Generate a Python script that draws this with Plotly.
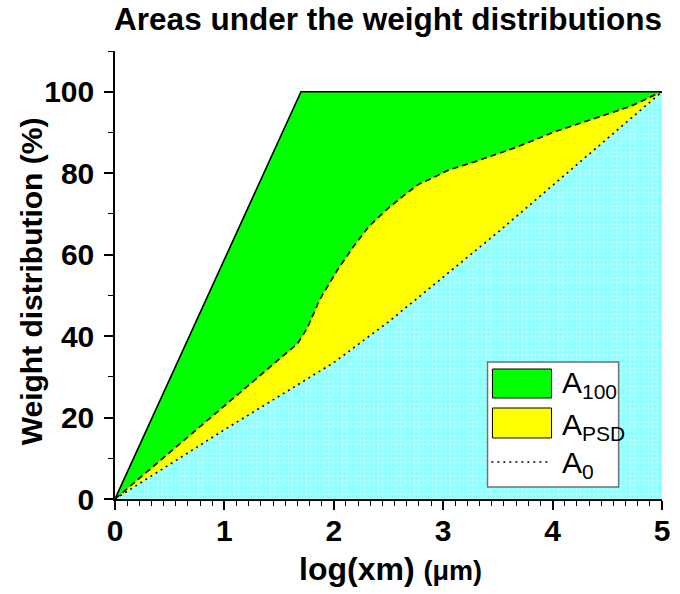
import plotly.graph_objects as go

# ---- data ----
a0_x = [0, 1.0, 2.0, 2.5, 3.0, 3.5, 4.0, 4.5, 5]
a0_y = [0, 17.0, 33.5, 43.5, 54.5, 65.5, 77.0, 88.5, 100]

psd_x = [0, 1.67, 1.76, 1.87, 2.03, 2.18, 2.32, 2.48, 2.63, 2.77, 2.93, 3.05, 3.29, 3.65, 4.01, 4.40, 4.70, 5]
psd_y = [0, 38.2, 42.1, 48.9, 56.1, 62.0, 66.9, 71.0, 74.3, 77.2, 79.2, 80.8, 82.8, 86.2, 90.1, 93.6, 96.3, 100]

a100_x = [0, 1.7, 5]
a100_y = [0, 100, 100]

FONT = "Liberation Sans, Arial, sans-serif"

fig = go.Figure()

# fills
fig.add_trace(go.Scatter(x=a0_x, y=a0_y, mode="lines", line=dict(width=0),
                         fill="tozeroy",
                         fillpattern=dict(shape="+", bgcolor="#8cffff", fgcolor="#ffffff",
                                          size=4.5, solidity=0.25),
                         showlegend=False, hoverinfo="skip"))
fig.add_trace(go.Scatter(x=psd_x, y=psd_y, mode="lines", line=dict(width=0),
                         fill="tonexty", fillcolor="#ffff00",
                         showlegend=False, hoverinfo="skip"))
fig.add_trace(go.Scatter(x=a100_x, y=a100_y, mode="lines", line=dict(width=0),
                         fill="tonexty", fillcolor="#00ff00",
                         showlegend=False, hoverinfo="skip"))
# lines
fig.add_trace(go.Scatter(x=a100_x, y=a100_y, mode="lines", name="A100",
                         line=dict(color="black", width=1.6), showlegend=False))
fig.add_trace(go.Scatter(x=psd_x, y=psd_y, mode="lines", name="APSD",
                         line=dict(color="black", width=1.6, dash="6px,4px"), showlegend=False))
fig.add_trace(go.Scatter(x=a0_x, y=a0_y, mode="lines", name="A0",
                         line=dict(color="black", width=1.6, dash="2px,4px"), showlegend=False))

# ---- custom legend ----
lx0, lx1, ly0, ly1 = 0.681, 0.9207, 0.0268, 0.3058
shapes = [
    dict(type="rect", xref="paper", yref="paper", x0=lx0, x1=lx1, y0=ly0, y1=ly1,
         fillcolor="white", line=dict(color="#707070", width=1.5), layer="above"),
    dict(type="rect", xref="paper", yref="paper", x0=0.690, x1=0.798, y0=0.2254, y1=0.2902,
         fillcolor="#00ff00", line=dict(color="black", width=1), layer="above"),
    dict(type="rect", xref="paper", yref="paper", x0=0.690, x1=0.798, y0=0.1362, y1=0.2031,
         fillcolor="#ffff00", line=dict(color="black", width=1), layer="above"),
    dict(type="line", xref="paper", yref="paper", x0=0.688, x1=0.793, y0=0.0826, y1=0.0826,
         line=dict(color="black", width=1.6, dash="2px,4px"), layer="above"),
]
leg_font = dict(family=FONT, size=30, color="black")
annotations = [
    dict(xref="paper", yref="paper", x=0.8144, y=0.2545, xanchor="left", yanchor="middle",
         text="A<sub>100</sub>", showarrow=False, font=leg_font),
    dict(xref="paper", yref="paper", x=0.8144, y=0.1618, xanchor="left", yanchor="middle",
         text="A<sub>PSD</sub>", showarrow=False, font=leg_font),
    dict(xref="paper", yref="paper", x=0.8144, y=0.077, xanchor="left", yanchor="middle",
         text="A<sub>0</sub>", showarrow=False, font=leg_font),
    # axis titles
    dict(xref="paper", yref="paper", x=-0.153, y=0.4866, textangle=-90,
         xanchor="center", yanchor="middle", showarrow=False,
         text="<b>Weight distribution (%)</b>",
         font=dict(family=FONT, size=30, color="black")),
    dict(xref="paper", yref="paper", x=0.5036, y=-0.157,
         xanchor="center", yanchor="middle", showarrow=False,
         text="<b>log(xm) <span style='font-size:27px'>(μm)</span></b>",
         font=dict(family=FONT, size=32, color="black")),
]

fig.update_layout(
    width=680, height=594,
    margin=dict(l=115, r=10, t=51, b=95),
    paper_bgcolor="white", plot_bgcolor="white",
    title=dict(text="<b>Areas under the weight distributions</b>",
               x=388 / 680, xref="container", xanchor="center",
               y=1 - 19 / 594, yref="container", yanchor="middle",
               font=dict(family=FONT, size=31.5, color="black")),
    shapes=shapes,
    annotations=annotations,
    showlegend=False,
)

tickfont = dict(family=FONT, size=30, color="black", weight="bold")
fig.update_xaxes(range=[0, 5], tickmode="array", tickvals=[0, 1, 2, 3, 4, 5],
                 showgrid=False, zeroline=False, showline=True, linecolor="black", linewidth=1.5,
                 ticks="outside", ticklen=9, tickwidth=1.5, tickcolor="black",
                 tickfont=tickfont, ticklabelstandoff=-5,
                 minor=dict(tickmode="linear", tick0=0, dtick=1 / 9, ticks="outside",
                            ticklen=5, tickwidth=1.2, tickcolor="black", showgrid=False))
fig.update_yaxes(range=[0, 110], tickmode="array", tickvals=[0, 20, 40, 60, 80, 100],
                 showgrid=False, zeroline=False, showline=True, linecolor="black", linewidth=1.5,
                 ticks="outside", ticklen=9, tickwidth=1.5, tickcolor="black",
                 tickfont=tickfont, ticklabelstandoff=4,
                 minor=dict(tickmode="linear", tick0=0, dtick=10, ticks="outside",
                            ticklen=5, tickwidth=1.2, tickcolor="black", showgrid=False))

fig.write_html("out.html")
